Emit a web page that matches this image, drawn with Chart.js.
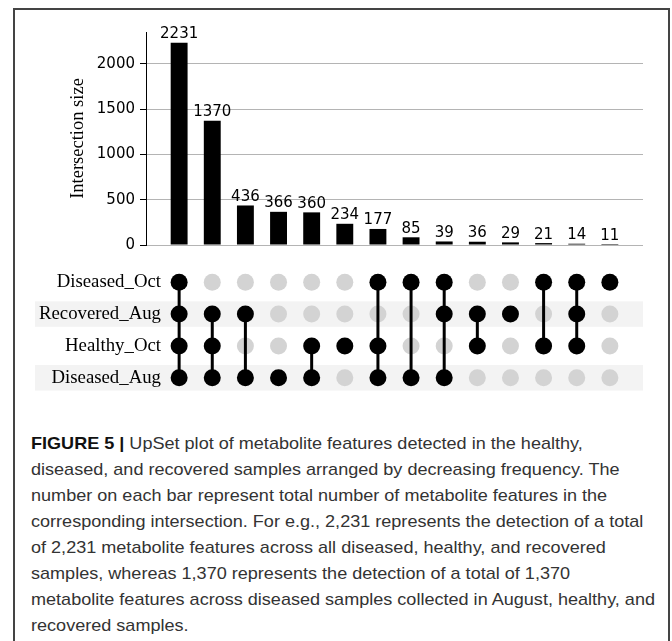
<!DOCTYPE html>
<html>
<head>
<meta charset="utf-8">
<script src="https://cdn.jsdelivr.net/npm/chart.js@4.4.1/dist/chart.umd.min.js"></script>
<style>
  html, body { margin: 0; padding: 0; background: #fff; }
  body { width: 672px; height: 641px; position: relative; overflow: hidden; }
  #frame { position: absolute; left: 13px; top: 8px; width: 657px; height: 700px;
           border: 2px solid #444; border-bottom: none; box-sizing: border-box; }
  #bars { position: absolute; left: 0; top: 0; }
  #matrix { position: absolute; left: 0; top: 255px; }
  #caption { position: absolute; left: 31px; top: 431px;
             font-family: "Liberation Sans Narrow", "Liberation Sans", Arial, sans-serif;
             font-size: 17px; line-height: 26px; color: #333;
             white-space: nowrap; transform-origin: 0 0; }
  #caption b { color: #111; }
</style>
</head>
<body>
<div id="frame"></div>
<canvas id="bars" width="672" height="260"></canvas>
<canvas id="matrix" width="672" height="150"></canvas>
<div id="caption">
  <div><b>FIGURE 5 |</b> UpSet plot of metabolite features detected in the healthy,</div>
  <div>diseased, and recovered samples arranged by decreasing frequency. The</div>
  <div>number on each bar represent total number of metabolite features in the</div>
  <div>corresponding intersection. For e.g., 2,231 represents the detection of a total</div>
  <div>of 2,231 metabolite features across all diseased, healthy, and recovered</div>
  <div>samples, whereas 1,370 represents the detection of a total of 1,370</div>
  <div id="longLine">metabolite features across diseased samples collected in August, healthy, and</div>
  <div>recovered samples.</div>
</div>
<script>
// Sets, listed top to bottom in the membership matrix
const setNames = ['Diseased_Oct', 'Recovered_Aug', 'Healthy_Oct', 'Diseased_Aug'];

// Intersection sizes, by decreasing frequency
const intersectionSizes = [2231, 1370, 436, 366, 360, 234, 177, 85, 39, 36, 29, 21, 14, 11];

// Which sets make up each intersection
const memberships = [
  ['Diseased_Oct', 'Recovered_Aug', 'Healthy_Oct', 'Diseased_Aug'],
  ['Recovered_Aug', 'Healthy_Oct', 'Diseased_Aug'],
  ['Recovered_Aug', 'Diseased_Aug'],
  ['Diseased_Aug'],
  ['Healthy_Oct', 'Diseased_Aug'],
  ['Healthy_Oct'],
  ['Diseased_Oct', 'Healthy_Oct', 'Diseased_Aug'],
  ['Diseased_Oct', 'Diseased_Aug'],
  ['Diseased_Oct', 'Recovered_Aug', 'Diseased_Aug'],
  ['Recovered_Aug', 'Healthy_Oct'],
  ['Recovered_Aug'],
  ['Diseased_Oct', 'Healthy_Oct'],
  ['Diseased_Oct', 'Recovered_Aug', 'Healthy_Oct'],
  ['Diseased_Oct']
];

// Tick values of the intersection-size axis
const sizeTicks = [0, 500, 1000, 1500, 2000];

const CANVAS_W = 672;
const AXIS_WIDTH = 146;     // left edge of the bar plot area
const LABEL_EDGE = 161;     // right edge of the set-name labels
const RIGHT_PAD = 29;

// Column axis: one unit of margin on each side of the columns
const colMin = -1;
const colMax = intersectionSizes.length;
const pxPerCol = (CANVAS_W - RIGHT_PAD - AXIS_WIDTH) / (colMax - colMin);

// Count written above every bar
const barLabels = {
  id: 'barLabels',
  afterDatasetsDraw(chart) {
    const ctx = chart.ctx;
    const meta = chart.getDatasetMeta(0);
    ctx.save();
    ctx.font = '15px "DejaVu Sans", sans-serif';
    ctx.fillStyle = '#000';
    ctx.textAlign = 'center';
    ctx.textBaseline = 'alphabetic';
    meta.data.forEach((bar, i) => {
      ctx.fillText(String(intersectionSizes[i]), bar.x, bar.y - 4.5);
    });
    ctx.restore();
  }
};

new Chart(document.getElementById('bars'), {
  type: 'bar',
  data: {
    datasets: [{
      data: intersectionSizes.map((v, i) => ({ x: i, y: v })),
      backgroundColor: '#000',
      borderWidth: 0,
      barPercentage: 0.51,
      categoryPercentage: 1
    }]
  },
  options: {
    responsive: false,
    animation: false,
    events: [],
    layout: { padding: { left: 0, right: RIGHT_PAD, top: 32, bottom: 15 } },
    plugins: { legend: { display: false }, tooltip: { enabled: false } },
    scales: {
      x: { type: 'linear', min: colMin, max: colMax, offset: false, display: false },
      y: {
        min: 0,
        max: 2350,
        afterBuildTicks: s => { s.ticks = sizeTicks.map(v => ({ value: v })); },
        afterFit: s => { s.width = AXIS_WIDTH; },
        border: { display: true, color: '#000', width: 1 },
        grid: { color: '#b4b4b4', lineWidth: 1, drawTicks: true, tickLength: 6, tickColor: '#000' },
        ticks: {
          padding: 5,
          color: '#000',
          font: { family: '"DejaVu Sans", sans-serif', size: 15 },
          callback: v => String(v)
        },
        title: {
          display: true,
          text: 'Intersection size',
          color: '#000',
          font: { family: '"Liberation Serif", serif', size: 18.5 },
          padding: { top: 67, bottom: 0 }
        }
      }
    }
  },
  plugins: [barLabels]
});

// Dot matrix: filled dots for member sets, grey for the rest, joined by a bar
const activeDots = [];
const inactiveDots = [];
const connectors = [];
memberships.forEach((members, c) => {
  setNames.forEach(s => {
    (members.includes(s) ? activeDots : inactiveDots).push({ x: c, y: s });
  });
  if (members.length > 1) {
    const idx = members.map(s => setNames.indexOf(s));
    connectors.push({
      data: [{ x: c, y: setNames[Math.min(...idx)] }, { x: c, y: setNames[Math.max(...idx)] }],
      showLine: true,
      borderColor: '#000',
      borderWidth: 3,
      pointRadius: 0,
      order: 1
    });
  }
});

// Light stripes behind every second set row
const rowBands = {
  id: 'rowBands',
  beforeDraw(chart) {
    const y = chart.scales.y;
    const ctx = chart.ctx;
    const step = y.getPixelForValue(1) - y.getPixelForValue(0);
    ctx.save();
    ctx.fillStyle = '#f3f3f3';
    setNames.forEach((s, i) => {
      if (i % 2 === 1) {
        const py = y.getPixelForValue(i);
        ctx.fillRect(35, py - step * 0.4, chart.chartArea.right - 35, step * 0.8);
      }
    });
    ctx.restore();
  }
};

// The matrix area starts right after the set labels; its column axis is
// shifted so that each column lines up with the bar above it.
const matrixColMin = colMin + (LABEL_EDGE - AXIS_WIDTH) / pxPerCol;

new Chart(document.getElementById('matrix'), {
  type: 'scatter',
  data: {
    datasets: [
      { data: activeDots, pointRadius: 8.5, backgroundColor: '#000', borderWidth: 0, order: 0 },
      ...connectors,
      { data: inactiveDots, pointRadius: 8.5, backgroundColor: '#d3d3d3', borderWidth: 0, order: 2 }
    ]
  },
  options: {
    responsive: false,
    animation: false,
    events: [],
    layout: { padding: { left: 0, right: RIGHT_PAD, top: 6, bottom: 9 } },
    plugins: { legend: { display: false }, tooltip: { enabled: false } },
    scales: {
      x: { type: 'linear', min: matrixColMin, max: colMax, offset: false, display: false },
      y: {
        type: 'category',
        labels: setNames,
        offset: true,
        afterFit: s => { s.width = LABEL_EDGE; },
        border: { display: false },
        grid: { display: false, drawTicks: false },
        ticks: { padding: 0, color: '#000', font: { family: '"Liberation Serif", serif', size: 18.8 } }
      }
    }
  },
  plugins: [rowBands]
});

// Fit the caption block to the figure width
const cap = document.getElementById('caption');
const longLine = document.getElementById('longLine');
const w = longLine.getBoundingClientRect().width;
cap.style.transform = 'scaleX(' + (624 / w) + ')';
</script>
</body>
</html>
